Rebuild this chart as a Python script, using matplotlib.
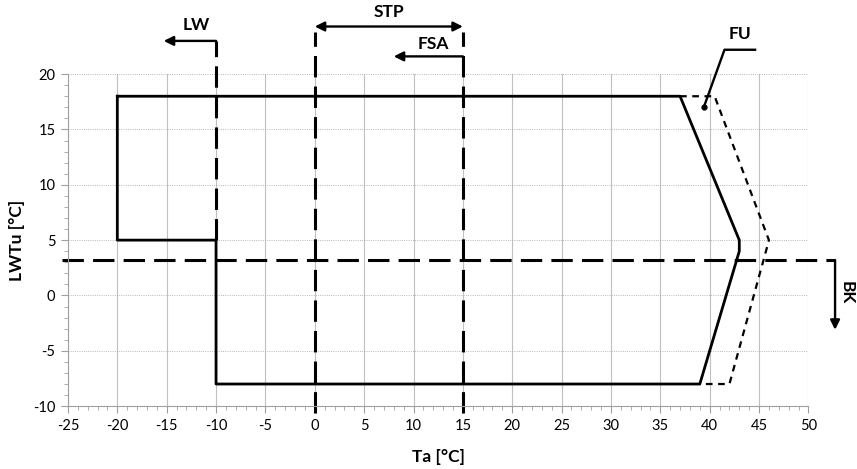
import matplotlib.pyplot as plt
from matplotlib.ticker import MultipleLocator

plt.rcParams['font.family'] = ['Lato', 'DejaVu Sans']
plt.rcParams['axes.unicode_minus'] = False

# operating envelope (solid)
env_x = [-20, 37, 43, 43, 39, -10, -10, -20, -20]
env_y = [18, 18, 5, 4, -8, -8, 5, 5, 18]

# extended envelope FU (dashed)
fu_x = [37, 40.5, 46, 45.7, 42, 39]
fu_y = [18, 18, 5, 4, -8, -8]

# limit lines
lw_x = -10
stp_x = [0, 15]
bk_y = 3.2

fig = plt.figure(figsize=(8.57, 4.69), dpi=100)
ax = fig.add_axes([0.0793, 0.134, 0.864, 0.708])

ax.set_xlim(-25, 50)
ax.set_ylim(-10, 20)
ax.xaxis.set_major_locator(MultipleLocator(5))
ax.xaxis.set_minor_locator(MultipleLocator(1))
ax.yaxis.set_major_locator(MultipleLocator(5))
ax.yaxis.set_minor_locator(MultipleLocator(1))
ax.grid(axis='x', which='major', color='#c0c0c0', lw=0.8, ls='-')
ax.grid(axis='y', which='major', color='#a0a0a0', lw=0.6, ls=':')
ax.set_axisbelow(True)
for s in ['top', 'right']:
    ax.spines[s].set_visible(False)
for s in ['left', 'bottom']:
    ax.spines[s].set_color('#a0a0a0')
ax.tick_params(which='major', length=5, color='#a0a0a0', labelsize=10.5, pad=4)
ax.tick_params(which='minor', length=3, color='#a0a0a0')

dash_long = (0, (7, 3))
lbl = dict(fontsize=12.5, fontweight='bold', ha='center', va='center')
arrow = dict(arrowstyle='-|>', lw=1.7, color='black', mutation_scale=14, shrinkA=0, shrinkB=0)

ax.plot(env_x, env_y, color='black', lw=2)
ax.plot(fu_x, fu_y, color='black', lw=1.6, ls=(0, (3, 2.5)))

# BK
ax.plot([-25.6, 52.7], [bk_y, bk_y], color='black', lw=2.2, ls=dash_long, clip_on=False)
ax.annotate('', xy=(52.7, -3.1), xytext=(52.7, bk_y), arrowprops=arrow, annotation_clip=False)
ax.text(53.9, 0.3, 'BK', rotation=-90, **lbl)

# LW
ax.plot([lw_x, lw_x], [5, 23], color='black', lw=2.2, ls=dash_long, clip_on=False)
ax.annotate('', xy=(-15.3, 23), xytext=(lw_x, 23), arrowprops=arrow, annotation_clip=False)
ax.text(-12.0, 24.4, 'LW', **lbl)

# STP
for xv in stp_x:
    ax.plot([xv, xv], [-10.6, 23.8], color='black', lw=2.2, ls=dash_long, clip_on=False)
ax.annotate('', xy=(stp_x[0], 24.3), xytext=(stp_x[1], 24.3),
            arrowprops=dict(arrow, arrowstyle='<|-|>'), annotation_clip=False)
ax.text(7.5, 25.6, 'STP', **lbl)

# FSA
ax.annotate('', xy=(8.0, 21.6), xytext=(stp_x[1], 21.6), arrowprops=arrow, annotation_clip=False)
ax.text(12.0, 22.7, 'FSA', **lbl)

# FU
ax.plot([39.4, 41.5, 44.6], [17.0, 22.2, 22.2], color='black', lw=1.7, clip_on=False)
ax.plot([39.4], [17.0], 'o', color='black', ms=3.5)
ax.text(43.1, 23.6, 'FU', **lbl)

ax.set_xlabel('Ta [°C]', fontsize=12.5, fontweight='bold')
ax.xaxis.set_label_coords(0.5, -0.13)
ax.set_ylabel('LWTu [°C]', fontsize=12.5, fontweight='bold')
ax.yaxis.set_label_coords(-0.058, 0.5)

fig.savefig('out.png', dpi=100)
